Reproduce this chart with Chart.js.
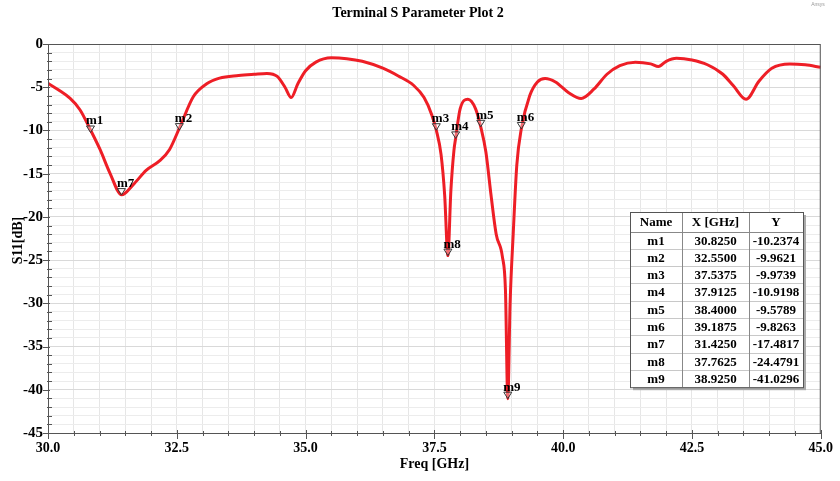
<!DOCTYPE html>
<html><head><meta charset="utf-8">
<script src="https://cdn.jsdelivr.net/npm/chart.js@4"></script>
<style>html,body{margin:0;padding:0;background:#fff}#wrap{width:840px;height:481px}</style>
</head><body><div id="wrap"><canvas id="c" width="840" height="481"></canvas></div>
<script>
const titleText = 'Terminal S Parameter Plot 2';
const xTitle = 'Freq [GHz]';
const yTitle = 'S11[dB]';
const freq = [30.0,30.2,30.43,30.62,30.83,31.01,31.2,31.43,31.65,31.91,32.17,32.36,32.56,32.82,33.08,33.33,33.7,34.0,34.25,34.45,34.6,34.72,34.85,35.0,35.2,35.5,35.8,36.1,36.5,36.8,37.1,37.3,37.45,37.5375,37.63,37.7,37.7625,37.82,37.88,37.9125,38.0,38.15,38.3,38.4,38.5,38.6,38.7,38.82,38.88,38.925,38.97,39.03,39.1,39.1875,39.35,39.5,39.65,39.85,40.1,40.35,40.6,40.85,41.1,41.4,41.7,41.85,42.0,42.2,42.5,42.8,43.1,43.3,43.55,43.8,44.05,44.4,44.7,45.0];
const s11 = [-4.55,-5.3,-6.3,-7.6,-10.0,-12.2,-14.9,-17.45,-16.3,-14.6,-13.5,-12.2,-9.6,-6.1,-4.6,-3.95,-3.65,-3.5,-3.4,-3.75,-5.0,-6.2,-4.6,-3.1,-2.1,-1.6,-1.7,-2.0,-2.8,-3.7,-4.8,-6.2,-8.2,-9.97,-12.8,-17.5,-24.48,-17.0,-12.3,-10.92,-7.5,-6.4,-7.5,-9.58,-12.5,-17.5,-22.0,-24.6,-28.5,-41.03,-30.0,-22.0,-14.0,-9.83,-6.0,-4.4,-4.0,-4.4,-5.6,-6.3,-5.2,-3.5,-2.5,-2.1,-2.3,-2.6,-2.0,-1.65,-1.85,-2.4,-3.5,-4.8,-6.4,-4.3,-2.8,-2.3,-2.4,-2.7];
const markerNames = ['m1','m2','m3','m4','m5','m6','m7','m8','m9'];
const markerX = [30.825,32.55,37.5375,37.9125,38.4,39.1875,31.425,37.7625,38.925];
const markerY = [-10.2374,-9.9621,-9.9739,-10.9198,-9.5789,-9.8263,-17.4817,-24.4791,-41.0296];
const tableHeaders = ['Name','X [GHz]','Y'];
const xTickLabels = ['30.0','32.5','35.0','37.5','40.0','42.5','45.0'];
const yTickLabels = ['0','-5','-10','-15','-20','-25','-30','-35','-40','-45'];

const FONT = '"Liberation Serif","Times New Roman",serif';
const points = freq.map((f,i)=>({x:f,y:s11[i]}));

const overlay = {
  id:'overlay',
  afterDraw(chart){
    const ctx = chart.ctx, a = chart.chartArea;
    const xs = chart.scales.x, ys = chart.scales.y;
    ctx.save();
    ctx.strokeStyle = '#555'; ctx.lineWidth = 1;
    ctx.strokeRect(a.left+0.5, a.top+0.5, a.right-a.left-1, a.bottom-a.top);
    ctx.beginPath();
    for (let v=30; v<=45.0001; v+=0.5){
      const px = Math.round(xs.getPixelForValue(v))+0.5;
      const major = Math.abs(v/2.5-Math.round(v/2.5))<1e-6;
      ctx.moveTo(px, a.bottom-(major?3:2)); ctx.lineTo(px, a.bottom+(major?6:3));
    }
    for (let v=-45; v<=0.0001; v+=1){
      const py = Math.round(ys.getPixelForValue(v))+0.5;
      const major = v%5===0;
      ctx.moveTo(a.left-(major?5:1), py); ctx.lineTo(a.left+(major?2:4), py);
    }
    ctx.stroke();
    ctx.font = 'bold 13px '+FONT;
    ctx.textAlign='left'; ctx.textBaseline='alphabetic';
    markerNames.forEach((n,i)=>{
      const px = xs.getPixelForValue(markerX[i]);
      const py = ys.getPixelForValue(markerY[i]);
      ctx.beginPath();
      ctx.moveTo(px-4, py-6.5); ctx.lineTo(px+4, py-6.5); ctx.lineTo(px, py); ctx.closePath();
      ctx.fillStyle='rgba(255,255,255,0.35)'; ctx.fill();
      ctx.strokeStyle='#333'; ctx.lineWidth=1; ctx.stroke();
      ctx.fillStyle='#000';
      ctx.fillText(n, px-4.5, py-8);
    });
    const tl=630, tt=212, cw=[52,67,54], hh=19.5, rh=17.3;
    const tw=cw[0]+cw[1]+cw[2], th=hh+rh*markerNames.length;
    ctx.fillStyle='#aaa'; ctx.fillRect(tl+3, tt+3, tw, th);
    ctx.fillStyle='#fff'; ctx.fillRect(tl, tt, tw, th);
    ctx.strokeStyle='#c8c8c8'; ctx.lineWidth=1;
    ctx.beginPath();
    for (let r=1;r<markerNames.length;r++){
      const y=Math.round(tt+hh+rh*r)+0.5; ctx.moveTo(tl,y); ctx.lineTo(tl+tw,y);
    }
    ctx.stroke();
    ctx.strokeStyle='#888';
    ctx.beginPath();
    let cx=tl;
    for (let c=0;c<2;c++){ cx+=cw[c]; ctx.moveTo(Math.round(cx)+0.5,tt); ctx.lineTo(Math.round(cx)+0.5,tt+th); }
    ctx.moveTo(tl, Math.round(tt+hh)+0.5); ctx.lineTo(tl+tw, Math.round(tt+hh)+0.5);
    ctx.stroke();
    ctx.strokeStyle='#555';
    ctx.strokeRect(tl+0.5, tt+0.5, tw, th);
    ctx.fillStyle='#000'; ctx.textAlign='center'; ctx.textBaseline='middle';
    ctx.font='bold 13px '+FONT;
    let x0=tl;
    tableHeaders.forEach((h,c)=>{ ctx.fillText(h, x0+cw[c]/2, tt+hh/2+1); x0+=cw[c]; });
    markerNames.forEach((n,r)=>{
      const vals=[n, markerX[r].toFixed(4), markerY[r].toFixed(4)];
      let xx=tl; const yy=tt+hh+rh*r+rh/2+1;
      vals.forEach((t,c)=>{ ctx.fillText(t, xx+cw[c]/2, yy); xx+=cw[c]; });
    });
    ctx.font='bold 14px '+FONT; ctx.fillStyle='#000';
    ctx.fillText(titleText, 418, 13);
    ctx.fillText(xTitle, (a.left+a.right)/2, 464);
    ctx.save(); ctx.translate(18, (a.top+a.bottom)/2+2); ctx.rotate(-Math.PI/2);
    ctx.fillText(yTitle, 0, 0); ctx.restore();
    ctx.font='5px sans-serif'; ctx.fillStyle='#999';
    ctx.fillText('Ansys', 818, 5);
    ctx.restore();
  }
};

new Chart(document.getElementById('c'), {
  type:'line',
  data:{datasets:[{data:points, borderColor:'rgb(238,30,38)', borderWidth:3, pointRadius:0, cubicInterpolationMode:'monotone', fill:false}]},
  options:{
    responsive:false, animation:false, devicePixelRatio:1,
    layout:{padding:{top:44,right:18,left:0,bottom:0}},
    plugins:{legend:{display:false},tooltip:{enabled:false},title:{display:false}},
    scales:{
      x:{type:'linear',min:30,max:45,
        afterFit(s){s.height=48;},
        ticks:{stepSize:0.5,autoSkip:false,maxRotation:0,padding:7,color:'#000',font:{family:FONT,size:14,weight:'bold'},
          callback(v){const t=Number(v).toFixed(1);return xTickLabels.includes(t)?t:'';}},
        grid:{color:'#e6e6e6',drawTicks:false},
        border:{display:true,color:'#555'}},
      y:{type:'linear',min:-45,max:0,
        afterFit(s){s.width=48;},
        ticks:{stepSize:1,autoSkip:false,padding:5,color:'#000',font:{family:FONT,size:15,weight:'bold'},
          callback(v){const t=String(Math.round(v));return yTickLabels.includes(t)?t:'';}},
        grid:{color(c){return c.tick && c.tick.value%5===0?'#d9d9d9':'#ececec';},drawTicks:false},
        border:{display:true,color:'#555'}}
    }
  },
  plugins:[overlay]
});
</script></body></html>
